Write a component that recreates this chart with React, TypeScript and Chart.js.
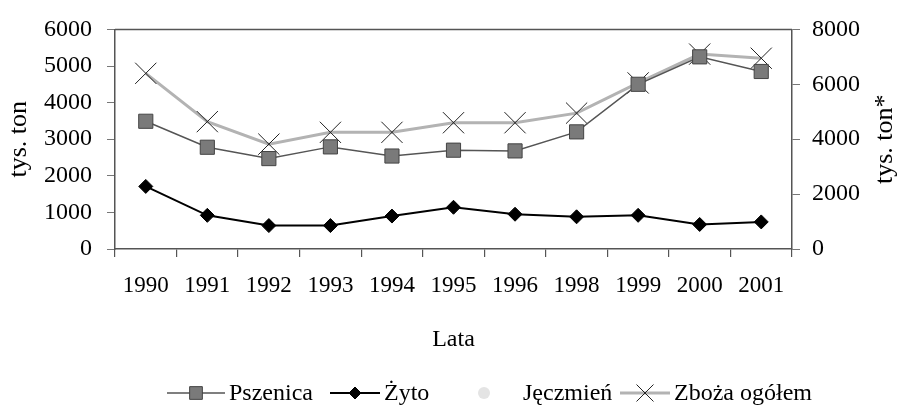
import React, { useEffect, useRef } from 'react';
import { Chart, registerables } from 'chart.js';

Chart.register(...registerables);

// ---- data ----
const years = ['1990', '1991', '1992', '1993', '1994', '1995', '1996', '1998', '1999', '2000', '2001'];
const pszenica = [3490, 2780, 2470, 2790, 2540, 2700, 2680, 3200, 4500, 5250, 4850];
const zyto = [1710, 920, 640, 640, 900, 1140, 950, 880, 920, 670, 740];
const jeczmien: (number | null)[] = [null, null, null, null, null, null, null, null, null, null, null];
const zbozaOgolem = [6400, 4640, 3820, 4250, 4250, 4600, 4600, 4950, 6050, 7100, 6950];

const seriesNames = ['Pszenica', 'Żyto', 'Jęczmień', 'Zboża ogółem'];
const leftAxisTitle = 'tys. ton';
const rightAxisTitle = 'tys. ton*';
const xAxisTitle = 'Lata';
const leftMax = 6000;
const leftStep = 1000;
const rightMax = 8000;
const rightStep = 2000;

const serif = "'Liberation Serif', 'Times New Roman', serif";

function drawMarker(ctx: CanvasRenderingContext2D, style: string, x: number, y: number, r: number, fill: string, stroke: string, lw: number) {
  ctx.save();
  ctx.fillStyle = fill;
  ctx.strokeStyle = stroke;
  ctx.lineWidth = lw;
  ctx.beginPath();
  if (style === 'rect') {
    const s = r * Math.SQRT1_2;
    ctx.rect(x - s, y - s, 2 * s, 2 * s);
    ctx.fill();
    ctx.stroke();
  } else if (style === 'rectRot') {
    ctx.moveTo(x, y - r);
    ctx.lineTo(x + r, y);
    ctx.lineTo(x, y + r);
    ctx.lineTo(x - r, y);
    ctx.closePath();
    ctx.fill();
    ctx.stroke();
  } else if (style === 'crossRot') {
    const s = r * Math.SQRT1_2;
    ctx.moveTo(x - s, y - s);
    ctx.lineTo(x + s, y + s);
    ctx.moveTo(x + s, y - s);
    ctx.lineTo(x - s, y + s);
    ctx.stroke();
  } else {
    ctx.arc(x, y, r, 0, Math.PI * 2);
    ctx.fill();
  }
  ctx.restore();
}

const extrasPlugin = {
  id: 'extras',
  afterDraw(chart: any) {
    const ctx: CanvasRenderingContext2D = chart.ctx;
    const { left, right, top, bottom } = chart.chartArea;
    ctx.save();
    // top frame line
    ctx.strokeStyle = '#555';
    ctx.lineWidth = 1.5;
    ctx.beginPath();
    ctx.moveTo(left, top);
    ctx.lineTo(right, top);
    ctx.stroke();

    // right axis title (reads bottom-to-top)
    ctx.save();
    ctx.translate(885, (top + bottom) / 2);
    ctx.rotate(-Math.PI / 2);
    ctx.font = `26px ${serif}`;
    ctx.fillStyle = '#000';
    ctx.textAlign = 'center';
    ctx.textBaseline = 'middle';
    ctx.fillText(rightAxisTitle, 0, 0);
    ctx.restore();

    // legend
    const legendY = 393;
    const starts = [167, 330, 455, 620];
    const lineLens = [58, 50, 58, 50];
    ctx.font = `24px ${serif}`;
    ctx.textBaseline = 'middle';
    ctx.textAlign = 'left';
    chart.data.datasets.forEach((ds: any, i: number) => {
      const x0 = starts[i];
      const len = lineLens[i];
      ctx.save();
      ctx.strokeStyle = ds.borderColor;
      ctx.lineWidth = ds.borderWidth;
      ctx.beginPath();
      ctx.moveTo(x0, legendY);
      ctx.lineTo(x0 + len, legendY);
      ctx.stroke();
      ctx.restore();
      const r = ds.pointStyle === 'crossRot' ? 12 : ds.pointStyle === 'rect' ? 9 : 6;
      drawMarker(ctx, ds.pointStyle, x0 + len / 2, legendY, r, ds.pointBackgroundColor, ds.pointBorderColor, ds.pointBorderWidth);
      ctx.fillStyle = '#000';
      ctx.fillText(ds.label, x0 + len + (i === 2 ? 10 : 4), legendY + 1);
    });
    ctx.restore();
  },
};

export default function App() {
  const ref = useRef<HTMLCanvasElement | null>(null);

  useEffect(() => {
    document.body.style.margin = '0';
    const canvas = ref.current;
    if (!canvas) return;
    const chart = new Chart(canvas, {
      type: 'line',
      data: {
        labels: years,
        datasets: [
          {
            label: seriesNames[0],
            data: pszenica,
            yAxisID: 'y',
            borderColor: '#555',
            borderWidth: 1.5,
            pointStyle: 'rect',
            pointRadius: 10,
            pointBackgroundColor: '#7a7a7a',
            pointBorderColor: '#444',
            pointBorderWidth: 1,
            tension: 0,
          },
          {
            label: seriesNames[1],
            data: zyto,
            yAxisID: 'y',
            borderColor: '#000',
            borderWidth: 2,
            pointStyle: 'rectRot',
            pointRadius: 7,
            pointBackgroundColor: '#000',
            pointBorderColor: '#000',
            pointBorderWidth: 1,
            tension: 0,
          },
          {
            label: seriesNames[2],
            data: jeczmien,
            yAxisID: 'y',
            borderColor: 'rgba(0,0,0,0)',
            borderWidth: 1,
            pointStyle: 'circle',
            pointRadius: 2,
            pointBackgroundColor: '#e4e4e4',
            pointBorderColor: '#e4e4e4',
            pointBorderWidth: 1,
            tension: 0,
          },
          {
            label: seriesNames[3],
            data: zbozaOgolem,
            yAxisID: 'y1',
            borderColor: '#b3b3b3',
            borderWidth: 3,
            pointStyle: 'crossRot',
            pointRadius: 15,
            pointBackgroundColor: '#222',
            pointBorderColor: '#222',
            pointBorderWidth: 1,
            tension: 0,
          },
        ],
      },
      options: {
        responsive: false,
        maintainAspectRatio: false,
        animation: false,
        layout: { padding: { top: 22, left: 0, right: 0, bottom: 50 } },
        plugins: {
          legend: { display: false },
          tooltip: { enabled: false },
        },
        scales: {
          x: {
            type: 'category',
            offset: true,
            afterFit: (s: any) => {
              s.height = 111;
            },
            grid: {
              display: true,
              drawOnChartArea: false,
              drawTicks: true,
              tickLength: 8,
              offset: true,
              color: '#555',
              lineWidth: 1.2,
            },
            border: { display: true, color: '#555', width: 1.5 },
            ticks: {
              font: { family: serif, size: 23 },
              color: '#000',
              padding: 15,
              maxRotation: 0,
              autoSkip: false,
            },
            title: {
              display: true,
              text: xAxisTitle,
              font: { family: serif, size: 24 },
              color: '#000',
              padding: { top: 0, bottom: 6 },
            },
          },
          y: {
            position: 'left',
            min: 0,
            max: leftMax,
            afterFit: (s: any) => {
              s.width = 115;
            },
            grid: {
              display: true,
              drawOnChartArea: false,
              drawTicks: true,
              tickLength: 8,
              color: '#777',
            },
            border: { display: true, color: '#555', width: 1.5 },
            ticks: {
              stepSize: leftStep,
              font: { family: serif, size: 24 },
              color: '#000',
              padding: 15,
              callback: (v: any) => String(v),
            },
            title: {
              display: true,
              text: leftAxisTitle,
              font: { family: serif, size: 26 },
              color: '#000',
              padding: { top: 4, bottom: 0 },
            },
          },
          y1: {
            position: 'right',
            min: 0,
            max: rightMax,
            afterFit: (s: any) => {
              s.width = 108;
            },
            grid: {
              display: true,
              drawOnChartArea: false,
              drawTicks: true,
              tickLength: 8,
              color: '#777',
            },
            border: { display: true, color: '#555', width: 1.5 },
            ticks: {
              stepSize: rightStep,
              font: { family: serif, size: 24 },
              color: '#000',
              padding: 12,
              callback: (v: any) => String(v),
            },
          },
        },
      },
      plugins: [extrasPlugin],
    });
    return () => chart.destroy();
  }, []);

  return (
    <div style={{ width: 900, height: 410 }}>
      <canvas ref={ref} width={900} height={410} style={{ display: 'block' }} />
    </div>
  );
}
